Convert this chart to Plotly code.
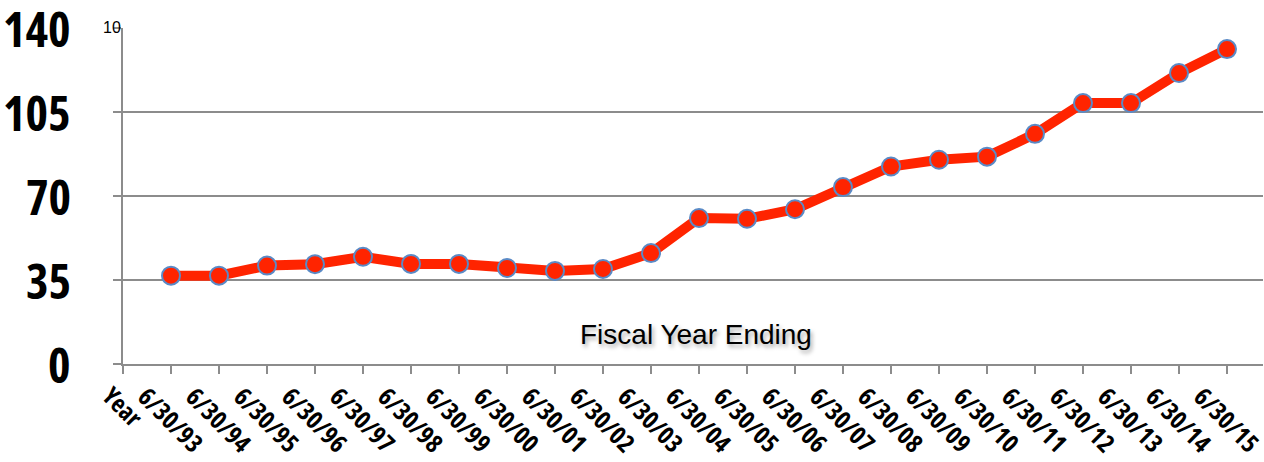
import plotly.graph_objects as go

categories = ["Year", "6/30/93", "6/30/94", "6/30/95", "6/30/96", "6/30/97", "6/30/98",
              "6/30/99", "6/30/00", "6/30/01", "6/30/02", "6/30/03", "6/30/04", "6/30/05",
              "6/30/06", "6/30/07", "6/30/08", "6/30/09", "6/30/10", "6/30/11", "6/30/12",
              "6/30/13", "6/30/14", "6/30/15"]
values = [None, 36.8, 36.8, 41.0, 41.6, 44.7, 41.7, 41.7, 40.0, 38.8, 39.6, 46.2, 60.8,
          60.5, 64.5, 73.7, 82.3, 85.1, 86.4, 95.9, 108.7, 108.7, 121.2, 131.2]
y_ticks = [0, 35, 70, 105, 140]
x_title = "Fiscal Year Ending"

NARROW = "Open Sans"


def narrow(s):
    return '<span style="font-stretch:condensed">' + s + '</span>'


xs = list(range(len(categories)))
fig = go.Figure()
fig.add_trace(go.Scatter(
    x=[x for x, v in zip(xs, values) if v is not None],
    y=[v for v in values if v is not None],
    mode="lines+markers",
    line=dict(color="#ff2400", width=10),
    marker=dict(size=18, color="#ff2400", line=dict(color="#5a8ac6", width=2)),
    showlegend=False,
))

annotations = []
for x, lab in zip(xs, categories):
    annotations.append(dict(
        x=x, y=0, xref="x", yref="paper", text=narrow(lab), showarrow=False,
        textangle=45, xanchor="center", yanchor="top", yshift=-12,
        font=dict(family=NARROW, size=25, color="black", weight="bold"),
    ))
for t in y_ticks:
    annotations.append(dict(
        x=0, y=t, xref="paper", yref="y", text=narrow(str(t)), showarrow=False,
        xanchor="right", yanchor="middle", xshift=-50,
        font=dict(family=NARROW, size=48, color="black", weight="bold"),
    ))
annotations.append(dict(
    x=11.94, y=12.3, xref="x", yref="y", text=x_title, showarrow=False,
    xanchor="center", yanchor="middle",
    font=dict(family="Liberation Sans, Arial, sans-serif", size=28, color="black",
              shadow="2px 3px 4px rgba(0,0,0,0.35)"),
))
annotations.append(dict(
    x=0, y=140, xref="x", yref="y", text="10", showarrow=False,
    xanchor="right", yanchor="middle", xshift=0, yshift=1,
    font=dict(family="Liberation Sans, Arial, sans-serif", size=16, color="black"),
))

fig.update_layout(
    width=1264, height=462,
    margin=dict(l=123, r=1, t=28, b=98),
    paper_bgcolor="white", plot_bgcolor="white",
    annotations=annotations,
    xaxis=dict(
        range=[0, 23.75], tickmode="array", tickvals=xs, showticklabels=False,
        ticks="outside", ticklen=8, tickwidth=2, tickcolor="#8c8c8c", automargin=False,
        showgrid=False, zeroline=False, showline=True, linecolor="#8c8c8c", linewidth=2,
    ),
    yaxis=dict(
        range=[0, 140], tickmode="array", tickvals=y_ticks, showticklabels=False,
        ticks="outside", ticklen=8, tickwidth=2, tickcolor="#8c8c8c", automargin=False,
        showgrid=True, gridcolor="#8c8c8c", gridwidth=2, zeroline=False,
        showline=True, linecolor="#8c8c8c", linewidth=2,
    ),
)

fig.write_html("out.html")
